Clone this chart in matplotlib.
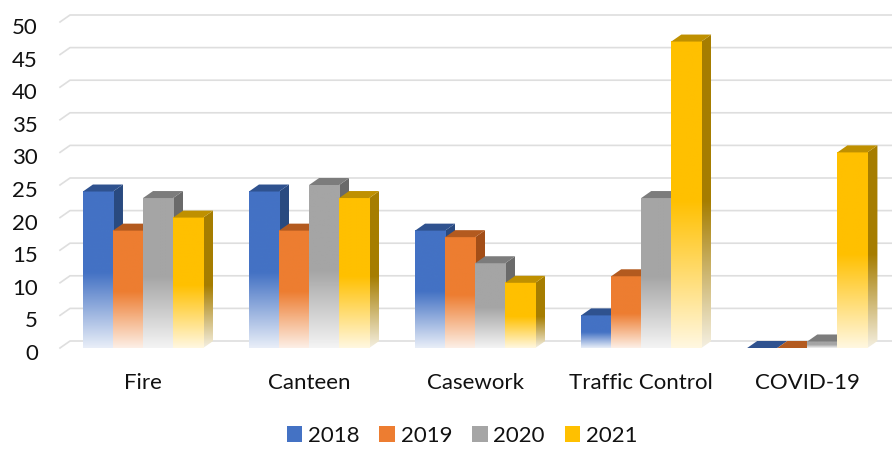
import numpy as np
import matplotlib
matplotlib.use("Agg")
import matplotlib.pyplot as plt
from matplotlib.patches import Polygon, Patch
from matplotlib.colors import to_rgb
from matplotlib.transforms import ScaledTranslation

categories = ["Fire", "Canteen", "Casework", "Traffic Control", "COVID-19"]
years = ["2018", "2019", "2020", "2021"]
v2018 = [24, 24, 18, 5, 0]
v2019 = [18, 18, 17, 11, 0]
v2020 = [23, 25, 13, 23, 1]
v2021 = [20, 23, 10, 47, 30]
yticks = list(range(0, 51, 5))

front_colors = ["#4472C4", "#ED7D31", "#A5A5A5", "#FFC000"]
top_colors = ["#2F528F", "#B35A1F", "#7C7C7C", "#BF9000"]
side_colors = ["#2A4A80", "#A34E17", "#6A6A6A", "#A67D00"]

plt.rcParams["font.family"] = ["Lato", "DejaVu Sans"]


def shade(color, y0, y1, v, n=200):
    # solid on the upper half of the bar, fading towards white at the floor
    ys = np.linspace(y0, y1, n)
    h = np.clip(ys / v, 0, 1)
    t = np.clip(0.12 + 0.88 * h / 0.48, 0.12, 1.0)
    rgb = 1 - (1 - np.array(to_rgb(color)))[None, :] * t[:, None]
    return rgb[:, None, :]


def main():
    fig = plt.figure(figsize=(8.92, 4.5), dpi=100)
    ax = fig.add_axes([60 / 892, 102 / 450, 832 / 892, 326 / 450])
    xlim = (-0.5, 4.51)
    ax.set_xlim(*xlim)
    ax.set_ylim(0, 50)

    # depth of the fake 3d boxes, in data units
    p0 = ax.transData.transform((0, 0))
    p1 = ax.transData.transform((1, 1))
    dx = 10 / (p1[0] - p0[0])
    dy = 7 / (p1[1] - p0[1])

    for v in yticks:
        ax.plot([xlim[0], xlim[0] + dx, xlim[1]], [v, v + dy, v + dy],
                color="#DEDEDE", lw=1.2, clip_on=False, zorder=1)

    series = [v2018, v2019, v2020, v2021]
    w = 0.181
    z = 2.0
    for ci in range(len(categories)):
        for si, vals in enumerate(series):
            v = vals[ci]
            x0 = ci + (si - 2) * w
            x1 = x0 + w
            z += 0.01
            if v > 0:
                side = Polygon([(x1, 0), (x1 + dx, dy), (x1 + dx, v + dy), (x1, v)],
                               closed=True, facecolor="none", edgecolor="none")
                ax.add_patch(side)
                im = ax.imshow(shade(side_colors[si], 0, v + dy, v),
                               extent=(x1, x1 + dx, 0, v + dy), origin="lower",
                               aspect="auto", interpolation="bilinear", zorder=z)
                im.set_clip_path(side)
                ax.imshow(shade(front_colors[si], 0, v, v),
                          extent=(x0, x1, 0, v), origin="lower",
                          aspect="auto", interpolation="bilinear", zorder=z + 0.002)
            top = Polygon([(x0, v), (x1, v), (x1 + dx, v + dy), (x0 + dx, v + dy)],
                          closed=True, facecolor=top_colors[si], edgecolor="none",
                          zorder=z + 0.004)
            ax.add_patch(top)

    ax.set_xlim(*xlim)
    ax.set_ylim(0, 50)
    for s in ax.spines.values():
        s.set_visible(False)
    ax.set_yticks(yticks)
    ax.set_xticks(range(len(categories)), categories)
    ax.tick_params(axis="y", length=0, pad=16, labelsize=16, labelcolor="#111111")
    ax.tick_params(axis="x", length=0, pad=18, labelsize=16, labelcolor="#111111")
    down = ScaledTranslation(0, -0.04, fig.dpi_scale_trans)
    for lbl in ax.get_yticklabels():
        lbl.set_transform(lbl.get_transform() + down)

    handles = [Patch(facecolor=c, edgecolor="none") for c in front_colors]
    fig.legend(handles, years, loc="center", bbox_to_anchor=(462 / 892, 1 - 436 / 450),
               ncol=4, frameon=False, fontsize=16, handlelength=0.7, handleheight=0.7,
               handletextpad=0.25, columnspacing=0.9, labelcolor="#111111",
               borderpad=0.1)

    fig.savefig("out.png", dpi=100)


if __name__ == "__main__":
    main()
